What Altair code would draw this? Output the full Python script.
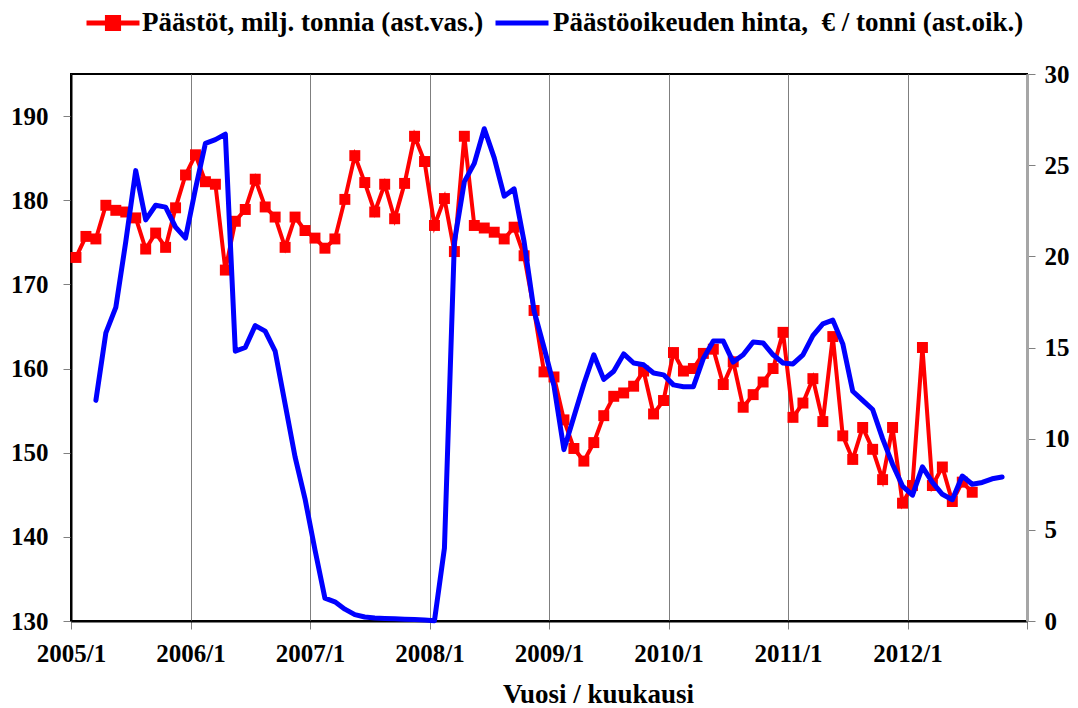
import json
import altair as alt
import pandas as pd

# ---------------- data ----------------
year_labels = ["2005/1", "2006/1", "2007/1", "2008/1", "2009/1", "2010/1", "2011/1", "2012/1"]
months_total = 96  # 2005/1 .. 2012/12

red_name = "Päästöt, milj. tonnia (ast.vas.)"
blue_name = "Päästöoikeuden hinta,\u00a0 € / tonni (ast.oik.)"

# monthly emissions, starting 2005/1
emissions_start = 0
emissions = [
    173.2, 175.7, 175.4, 179.4, 178.8, 178.6, 177.9, 174.2, 176.1, 174.4, 179.1, 183.0,
    185.4, 182.2, 181.9, 171.7, 177.5, 178.9, 182.5, 179.2, 178.0, 174.4, 178.0, 176.4,
    175.5, 174.3, 175.4, 180.1, 185.3, 182.1, 178.6, 181.9, 177.8, 182.0, 187.6, 184.6,
    177.0, 180.2, 173.9, 187.6, 177.0, 176.7, 176.2, 175.4, 176.8, 173.4, 166.9, 159.6,
    159.0, 153.9, 150.5, 149.0, 151.2, 154.4, 156.7, 157.1, 157.9, 159.7, 154.6, 156.2,
    161.9, 159.7, 160.0, 161.8, 162.3, 158.1, 160.8, 155.4, 156.9, 158.4, 160.0, 164.3,
    154.2, 155.9, 158.8, 153.7, 163.8, 152.0, 149.2, 153.0, 150.4, 146.8, 153.0, 144.0,
    146.1, 162.5, 146.1, 148.3, 144.2, 146.5, 145.3,
]

# monthly allowance price, starting 2005/3
price_start = 2
price = [
    12.1, 15.8, 17.2, 20.8, 24.7, 22.0, 22.8, 22.7, 21.6, 21.0,
    23.7, 26.2, 26.4, 26.7, 14.8, 15.0, 16.2, 15.9, 14.8, 11.9, 9.0, 6.7,
    3.9, 1.25, 1.05, 0.65, 0.35, 0.22, 0.16, 0.14, 0.12, 0.10, 0.08, 0.06,
    0.02, 4.0, 20.8, 24.1, 25.1, 27.0, 25.4, 23.3, 23.7, 20.8, 17.0, 15.0,
    12.9, 9.4, 11.2, 13.0, 14.6, 13.25, 13.7, 14.65, 14.15, 14.05, 13.6, 13.5,
    12.95, 12.85, 12.85, 14.4, 15.35, 15.35, 14.2, 14.6, 15.3, 15.25, 14.6, 14.15,
    14.1, 14.6, 15.65, 16.3, 16.5, 15.2, 12.6, 12.1, 11.6, 10.0, 8.6, 7.4,
    6.9, 8.45, 7.6, 6.95, 6.65, 7.95, 7.5, 7.6, 7.8, 7.9,
]

left_ticks = [130, 140, 150, 160, 170, 180, 190]
right_ticks = [0, 5, 10, 15, 20, 25, 30]

# ---------------- tables ----------------
df_red = pd.DataFrame({
    "m": [emissions_start + i + 0.5 for i in range(len(emissions))],
    "v": emissions,
    "s": red_name,
})
df_blue = pd.DataFrame({
    "m": [price_start + i + 0.5 for i in range(len(price))],
    "v": price,
    "s": blue_name,
})

FONT = "Liberation Serif"
label_expr = json.dumps(year_labels) + "[datum.value / 12] || ''"

x_enc = alt.X(
    "m:Q",
    scale=alt.Scale(domain=[0, months_total], nice=False, zero=False),
    axis=alt.Axis(
        values=list(range(0, months_total + 1, 12)),
        labelExpr=label_expr,
        labelFlush=False, labelOverlap=False,
        title="Vuosi / kuukausi",
        grid=True, gridColor="#7f7f7f", gridWidth=1,
        domainColor="black", domainWidth=2,
        tickColor="#808080", tickSize=8, tickWidth=1,
        labelPadding=12, labelFontSize=25,
        titleFontSize=27, titleX=527, titleY=73, titleBaseline="middle",
        titleAlign="center",
    ),
)

legend_common = dict(
    title=None, orient="none", padding=0,
    symbolSize=702, symbolStrokeWidth=5,
    labelFontSize=27, labelLimit=700,
)

red_line = alt.Chart(df_red).mark_line(
    strokeWidth=4,
    point=alt.OverlayMarkDef(shape="square", size=120, filled=True, opacity=1),
).encode(
    x=x_enc,
    y=alt.Y(
        "v:Q",
        scale=alt.Scale(domain=[130, 195], nice=False, zero=False),
        axis=alt.Axis(
            values=left_ticks, orient="left", title=None, grid=False,
            domainColor="black", domainWidth=2,
            tickColor="#808080", tickSize=8, tickWidth=1,
            labelPadding=15, labelFontSize=25,
        ),
    ),
    color=alt.Color(
        "s:N",
        scale=alt.Scale(domain=[red_name], range=["#FF0000"]),
        legend=alt.Legend(
            legendX=26, legendY=-67,
            symbolType="M-2,0L2,0M-0.42,-0.42L0.42,-0.42L0.42,0.42L-0.42,0.42Z",
            symbolFillColor="#FF0000", symbolStrokeColor="#FF0000",
            labelOffset=13, **legend_common,
        ),
    ),
)

blue_line = alt.Chart(df_blue).mark_line(
    strokeWidth=5, strokeCap="round", strokeJoin="round",
).encode(
    x=x_enc,
    y=alt.Y(
        "v:Q",
        scale=alt.Scale(domain=[0, 30], nice=False, zero=True),
        axis=alt.Axis(
            values=right_ticks, orient="right", title=None, grid=False,
            domainColor="#A6A6A6", domainWidth=3,
            tickColor="#808080", tickSize=8, tickWidth=1,
            labelPadding=9, labelFontSize=25,
        ),
    ),
    color=alt.Color(
        "s:N",
        scale=alt.Scale(domain=[blue_name], range=["#0000FF"]),
        legend=alt.Legend(
            legendX=435, legendY=-67,
            symbolType="M-2,0L2,0",
            symbolStrokeColor="#0000FF",
            labelOffset=15, **legend_common,
        ),
    ),
)

chart = alt.layer(red_line, blue_line).resolve_scale(
    y="independent", color="independent"
).properties(
    width=956, height=547,
    autosize=alt.AutoSizeParams(type="none"),
    padding={"left": 63, "top": 66, "right": 43, "bottom": 88},
    background="white",
).configure_view(
    stroke="black", strokeWidth=2,
).configure_axis(
    labelFont=FONT, labelFontWeight="bold", labelColor="black",
    titleFont=FONT, titleFontWeight="bold", titleColor="black",
).configure_legend(
    labelFont=FONT, labelFontWeight="bold", labelColor="black",
)

chart.save("out.html", embed_options={"renderer": "svg", "actions": False})
